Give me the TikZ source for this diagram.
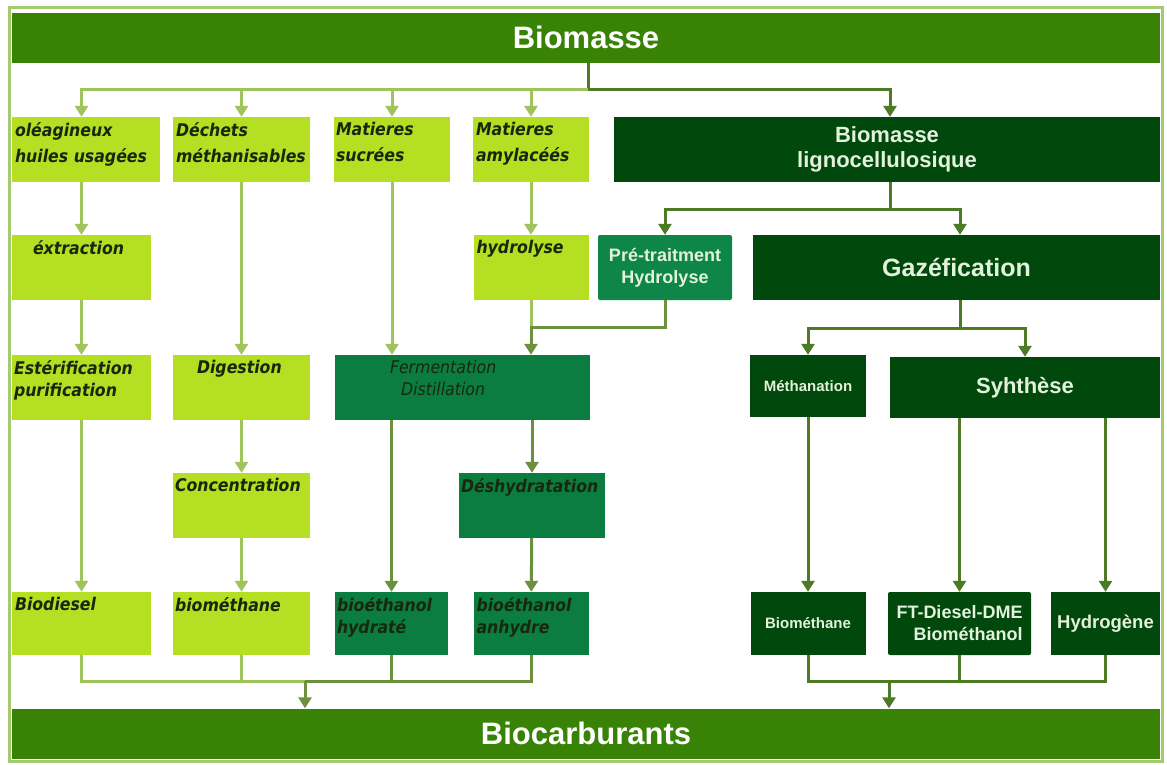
\documentclass[tikz,border=0pt]{standalone}
\usepackage{fontspec}
\usetikzlibrary{arrows.meta}
\newfontfamily\hfont{Liberation Sans}
\newfontfamily\cfont{DejaVu Sans}[FakeStretch=0.9]
\definecolor{cbar}{HTML}{388206}
\definecolor{cframe}{HTML}{A5CB72}
\definecolor{clight}{HTML}{B4DF22}
\definecolor{cmid}{HTML}{0B7D40}
\definecolor{cpre}{HTML}{0E8648}
\definecolor{cdark}{HTML}{00480C}
\definecolor{ctext}{HTML}{17280C}
\definecolor{cwhite}{HTML}{E4F2DC}
\definecolor{clink}{HTML}{9FC45C}
\definecolor{cmlink}{HTML}{6C903E}
\definecolor{cdlink}{HTML}{4D7A24}
\tikzset{
  sz/.style 2 args={minimum width=#1, minimum height=#2},
  bar/.style={rectangle, inner sep=0pt, fill=cbar, text=white, font=\hfont\bfseries\fontsize{31}{31}\selectfont, minimum width=1148, minimum height=50},
  lbox/.style={rectangle, inner sep=0pt, fill=clight},
  mbox/.style={rectangle, inner sep=0pt, fill=cmid},
  dbox/.style={rectangle, inner sep=0pt, fill=cdark, text=cwhite, align=center, font=\hfont\bfseries\fontsize{18}{22}\selectfont},
  ltxt/.style={font=\cfont\bfseries\itshape\fontsize{17.5}{22}\selectfont, text=ctext, align=left, anchor=north west, inner sep=0pt, xshift=3, yshift=-5},
  ttxt/.style={ltxt, font=\cfont\bfseries\itshape\fontsize{17.5}{26}\selectfont},
  frame/.style={draw=cframe, line width=3},
  lline/.style={draw=clink, line width=3},
  mline/.style={draw=cmlink, line width=3},
  dline/.style={draw=cdlink, line width=3},
  lpre/.style={lline, -{Triangle[width=13pt,length=11pt]}},
  mpre/.style={mline, -{Triangle[width=13pt,length=11pt]}},
  dpre/.style={dline, -{Triangle[width=13pt,length=11pt]}},
}

\begin{document}
\begin{tikzpicture}[x=1pt,y=-1pt]
\useasboundingbox (0,0) rectangle (1167,764);
\fill[white] (0,0) rectangle (1167,764);
\draw[frame] (9,7) rectangle (1162,761);
\node[bar] (bio) at (586,37.5) {Biomasse};
\node[bar] (car) at (586,733.5) {Biocarburants};

\node[lbox, sz={148}{65}, label={[ttxt]north west:{oléagineux\\huiles usagées}}] (ole) at (86,149.5) {};
\node[lbox, sz={137}{65}, label={[ttxt]north west:{Déchets\\méthanisables}}] (dech) at (241.5,149.5) {};
\node[lbox, sz={116}{65}, label={[ttxt, xshift=-1]north west:{Matieres\\sucrées}}] (sucr) at (392,149.5) {};
\node[lbox, sz={116}{65}, label={[ttxt]north west:{Matieres\\amylacéés}}] (amyl) at (531,149.5) {};
\node[dbox, sz={546}{65}, font=\hfont\bfseries\fontsize{22}{25}\selectfont] (ligno) at (887,149.5) {Biomasse\\lignocellulosique};

\node[lbox, sz={139}{65}, label={[ltxt, xshift=18]north west:{éxtraction}}] (extr) at (81.5,267.5) {};
\node[lbox, sz={115}{65}, label={[ltxt]north west:{hydrolyse}}] (hydr) at (531,267.5) {};
\node[dbox, fill=cpre, rounded corners=2, sz={134}{65}] (pret) at (665,267.5) {Pré-traitment\\Hydrolyse};
\node[dbox, sz={407}{65}, font=\hfont\bfseries\fontsize{25}{25}\selectfont] (gaz) at (956.5,267.5) {Gazéfication};

\node[lbox, sz={139}{65}, label={[ltxt, xshift=-1]north west:{Estérification\\purification}}] (ester) at (81.5,387.5) {};
\node[lbox, sz={137}{65}, label={[ltxt, xshift=21]north west:{Digestion}}] (dige) at (241.5,387.5) {};
\node[mbox, sz={255}{65}, label={[ltxt, xshift=52, align=center, font=\cfont\itshape\fontsize{17.5}{22}\selectfont]north west:{Fermentation\\Distillation}}] (ferm) at (462.5,387.5) {};
\node[dbox, sz={116}{62}, font=\hfont\bfseries\fontsize{15}{17}\selectfont] (meth) at (808,386) {Méthanation};
\node[dbox, sz={270}{61}, font=\hfont\bfseries\fontsize{22}{22}\selectfont] (synt) at (1025,387.5) {Syhthèse};

\node[lbox, sz={137}{65}, label={[ltxt, xshift=-1]north west:{Concentration}}] (conc) at (241.5,505.5) {};
\node[mbox, sz={146}{65}, label={[ltxt, xshift=-1]north west:{Déshydratation}}] (desh) at (532,505.5) {};

\node[lbox, sz={139}{63}, label={[ltxt]north west:{Biodiesel}}] (biod) at (81.5,623.5) {};
\node[lbox, sz={137}{63}, label={[ltxt, xshift=-1]north west:{biométhane}}] (bmeth) at (241.5,623.5) {};
\node[mbox, sz={113}{63}, label={[ltxt, xshift=-1]north west:{bioéthanol\\hydraté}}] (ehyd) at (391.5,623.5) {};
\node[mbox, sz={115}{63}, label={[ltxt]north west:{bioéthanol\\anhydre}}] (eanh) at (531,623.5) {};
\node[dbox, sz={115}{63}, font=\hfont\bfseries\fontsize{15}{17}\selectfont] (rmeth) at (808,623.5) {Biométhane};
\node[dbox, sz={143}{63}, align=right, rounded corners=2] (ftd) at (959.5,623.5) {FT-Diesel-DME\\Biométhanol};
\node[dbox, sz={109}{63}, font=\hfont\bfseries\fontsize{18.5}{22}\selectfont] (hydro) at (1105.5,623.5) {Hydrogène};

\coordinate (hub) at (588,89);
\coordinate (lsp) at (890,209);
\coordinate (jn) at (531,327);
\coordinate (gsp) at (960,328);
\coordinate (lcol) at (305,681);
\coordinate (rcol) at (889,681);

\draw[dline] (bio.south -| hub) -- (hub);
\draw[lpre] (hub) -| (extr |- ole.north);
\draw[lpre] (hub) -| (dech);
\draw[lpre] (hub) -| (sucr);
\draw[lpre] (hub) -| (amyl);
\draw[dpre] (hub) -| (lsp |- ligno.north);

\draw[lpre] (extr |- ole.south) -- (extr);
\draw[lpre] (extr) -- (ester);
\draw[lpre] (ester) -- (biod);
\draw[lpre] (dech) -- (dige);
\draw[lpre] (dige) -- (conc);
\draw[lpre] (conc) -- (bmeth);
\draw[lpre] (sucr) -- (sucr |- ferm.north);
\draw[lpre] (amyl) -- (hydr);
\draw[lline] (hydr) -- (jn);
\draw[mpre] (pret) |- (jn) -- (jn |- ferm.north);
\draw[mpre] (ehyd |- ferm.south) -- (ehyd);
\draw[mpre] (desh |- ferm.south) -- (desh);
\draw[mpre] (desh) -- (eanh);

\draw[dline] (ligno.south -| lsp) -- (lsp);
\draw[dpre] (lsp) -| (pret);
\draw[dpre] (lsp) -| (gsp |- gaz.north);
\draw[dline] (gaz.south -| gsp) -- (gsp);
\draw[dpre] (gsp) -| (meth);
\draw[dpre] (gsp) -| (synt);
\draw[dpre] (meth) -- (rmeth);
\draw[dpre] (ftd |- synt.south) -- (ftd);
\draw[dpre] (hydro |- synt.south) -- (hydro);

\draw[lline] (biod) |- (lcol);
\draw[lline] (bmeth) |- (lcol);
\draw[mline] (ehyd) |- (lcol);
\draw[mline] (eanh) |- (lcol);
\draw[mpre] (lcol) -- (lcol |- car.north);
\draw[dline] (rmeth) |- (rcol);
\draw[dline] (ftd) |- (rcol);
\draw[dline] (hydro) |- (rcol);
\draw[dpre] (rcol) -- (rcol |- car.north);
\end{tikzpicture}
\end{document}
